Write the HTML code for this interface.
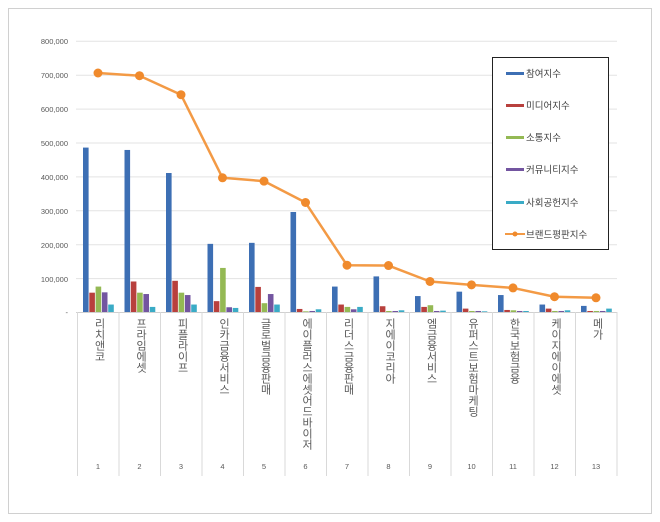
<!DOCTYPE html>
<html><head><meta charset="utf-8"><style>
body{margin:0;background:#fff;position:relative;width:660px;height:522px;overflow:hidden;}
svg{display:block;font-family:"Liberation Sans","Noto Sans CJK KR",sans-serif;}
.v{position:absolute;top:318px;width:14px;font-family:"Liberation Sans","Noto Sans CJK KR",sans-serif;font-size:11px;line-height:12px;color:#595959;writing-mode:vertical-rl;text-orientation:upright;letter-spacing:0px;}
</style></head><body>
<svg id="s" width="660" height="522" xmlns="http://www.w3.org/2000/svg">
<rect x="8.5" y="8.5" width="643" height="505" fill="#fff" stroke="#d0d0d0"/>
<g id="grid" stroke="#e3e3e3" stroke-width="1"></g>
<g font-size="7.5" fill="#595959" text-anchor="end">
<text x="68" y="44">800,000</text><text x="68" y="78">700,000</text><text x="68" y="112">600,000</text><text x="68" y="146">500,000</text><text x="68" y="180">400,000</text><text x="68" y="214">300,000</text><text x="68" y="248">200,000</text><text x="68" y="282">100,000</text><text x="68" y="315">-</text>
</g>
<g id="bars"></g>
<g id="line"></g>
<g font-size="7.5" fill="#595959" text-anchor="middle">
<text x="98" y="469">1</text><text x="139.5" y="469">2</text><text x="181" y="469">3</text><text x="222.5" y="469">4</text><text x="264" y="469">5</text><text x="305.5" y="469">6</text><text x="347" y="469">7</text><text x="388.5" y="469">8</text><text x="430" y="469">9</text><text x="471.5" y="469">10</text><text x="513" y="469">11</text><text x="554.5" y="469">12</text><text x="596" y="469">13</text>
</g>
<rect x="492.5" y="57.5" width="116" height="192" fill="#fff" stroke="#222"/>
<g font-size="9.5" fill="#404040">
<rect x="506" y="72" width="18" height="3" fill="#3d6fb4"/><text x="526" y="77">참여지수</text>
<rect x="506" y="104" width="18" height="3" fill="#b8403d"/><text x="526" y="109">미디어지수</text>
<rect x="506" y="136" width="18" height="3" fill="#94b954"/><text x="526" y="141">소통지수</text>
<rect x="506" y="168" width="18" height="3" fill="#7355a0"/><text x="526" y="173">커뮤니티지수</text>
<rect x="506" y="201" width="18" height="3" fill="#3aabc6"/><text x="526" y="206">사회공헌지수</text>
<line x1="505" y1="234" x2="525" y2="234" stroke="#f39a45" stroke-width="2"/><circle cx="515" cy="234" r="2.5" fill="#f08a2c"/><text x="526" y="238">브랜드평판지수</text>
</g>
</svg>
<div class="v" style="left:91px">리치앤코</div>
<div class="v" style="left:132.5px">프라임에셋</div>
<div class="v" style="left:174px">피플라이프</div>
<div class="v" style="left:215.5px">인카금융서비스</div>
<div class="v" style="left:257px">글로벌금융판매</div>
<div class="v" style="left:298.5px">에이플러스에셋어드바이저</div>
<div class="v" style="left:340px">리더스금융판매</div>
<div class="v" style="left:381.5px">지에이코리아</div>
<div class="v" style="left:423px">엠금융서비스</div>
<div class="v" style="left:464.5px">유퍼스트보험마케팅</div>
<div class="v" style="left:506px">한국보험금융</div>
<div class="v" style="left:547.5px">케이지에이에셋</div>
<div class="v" style="left:589px">메가</div>
<script>
var ns="http://www.w3.org/2000/svg";
function el(p,t,a){var e=document.createElementNS(ns,t);for(var k in a)e.setAttribute(k,a[k]);document.getElementById(p).appendChild(e);return e;}
var Y=function(v){return 312-v*0.339;};
for(var i=1;i<=8;i++)el("grid","line",{x1:76,x2:617,y1:Y(i*100)+0.5,y2:Y(i*100)+0.5});
el("grid","line",{x1:76,x2:617,y1:312.5,y2:312.5,stroke:"#d0d0d0"});
for(var i=0;i<=13;i++){var x=77+i*41.5;el("grid","line",{x1:x+0.5,x2:x+0.5,y1:312,y2:476,stroke:"#d9d9d9"});}
var d=[[485,57,75,58,22,705],[478,90,57,53,15,697],[410,92,57,50,22,641],[201,32,130,14,12,396],[204,74,26,53,22,386],[295,9,2,3,8,323],[75,22,15,8,15,138],[105,17,3,3,5,137],[47,15,20,3,4,90],[60,10,3,3,2,80],[50,6,5,3,3,71],[22,10,3,3,5,45],[18,3,3,3,10,42]];
var c=["#3d6fb4","#b8403d","#94b954","#7355a0","#3aabc6"];
var pts=[];
d.forEach(function(r,i){var cx=98+i*41.5;for(var j=0;j<5;j++){var h=r[j]*0.339;el("bars","rect",{x:cx-15+j*6.3,y:312-h,width:5.6,height:h,fill:c[j]});}pts.push(cx+","+Y(r[5]));});
el("line","polyline",{points:pts.join(" "),fill:"none",stroke:"#f39a45","stroke-width":2.5,"stroke-linejoin":"round"});
d.forEach(function(r,i){el("line","circle",{cx:98+i*41.5,cy:Y(r[5]),r:4.5,fill:"#f08a2c"});});
</script>
</body></html>
